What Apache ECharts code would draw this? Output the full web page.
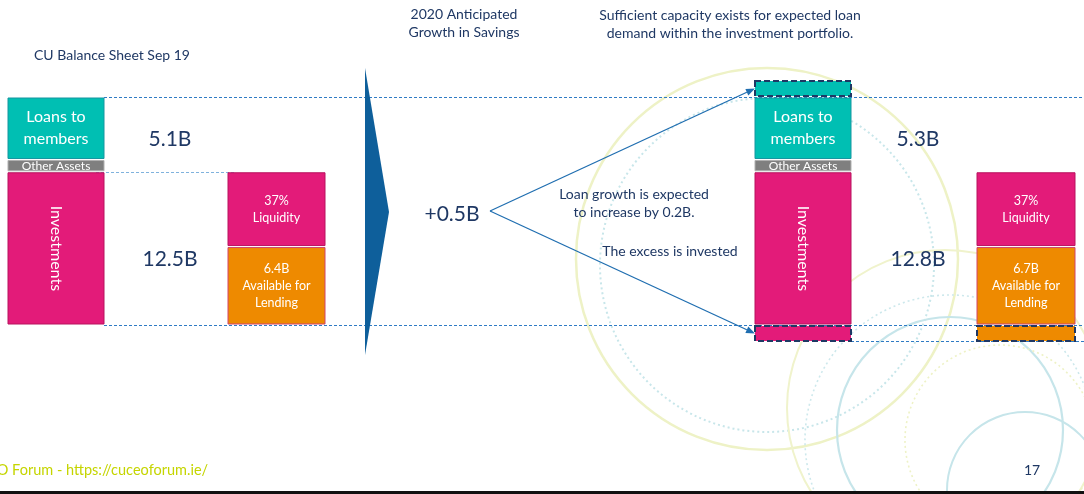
<!DOCTYPE html>
<html>
<head>
<meta charset="utf-8">
<script src="https://cdn.jsdelivr.net/npm/echarts@6/dist/echarts.min.js"></script>
<style>
html,body{margin:0;padding:0;background:#ffffff;}
#chart{width:1084px;height:494px;}
</style>
</head>
<body>
<div id="chart"></div>
<script>
// ---------------- DATA ----------------
const assetCategories = ['Loans to\nmembers', 'Other Assets', 'Investments'];
const balanceSep19 = [5.1, 1.0, 12.5];          // B, CU balance sheet Sep 19
const growth2020 = [0.2, 0.0, 0.3];             // B, anticipated 2020 change per category
const savingsGrowth2020 = 0.5;                  // B
const availableForLending = [6.4, 6.7];         // B, Sep 19 and 2020
const liquidityRatio = ['37%', '37%'];
const headerTexts = ['CU Balance Sheet Sep 19', '2020 Anticipated\nGrowth in Savings',
  'Sufficient capacity exists for expected loan\ndemand within the investment portfolio.'];
const noteTexts = ['Loan growth is expected\nto increase by 0.2B.', 'The excess is invested'];
const footerTexts = ['CUCEO Forum - https://cuceoforum.ie/', '17'];

// ---------------- LAYOUT / STYLE ----------------
const W = 1084, H = 494;
const LAYOUT = {
  topPx: 97, bottomPx: 325, gap: 2, minGrowthPx: 15,
  leftStack: [8, 104], leftLiq: [228, 325], rightStack: [755, 851], rightLiq: [977, 1075],
  leftValueX: 170, rightValueX: 918, valueOffset: 11,
  arrowOrigin: 490
};
const NAVY = '#1F3864';
const FONT = 'Lato, "Open Sans", sans-serif';
const COL = {
  teal: '#00BFB3', tealStroke: '#1596a0',
  gray: '#7F7F7F', grayStroke: '#b0b0b0',
  pink: '#E31B79', pinkStroke: '#b8125e',
  orange: '#EE8A00', orangeStroke: '#d0456a',
  guide: '#2F7BC4', guideLight: '#7FB2DD', arrow: '#1F6EB0', tri: '#0E5F9B'
};

// ---------------- DERIVED ----------------
const cum = []; let acc = 0;
balanceSep19.forEach(v => { cum.push([acc, acc + v]); acc += v; });
const total = acc;
const k = (LAYOUT.bottomPx - LAYOUT.topPx) / total;
const yMin = -LAYOUT.topPx / k, yMax = (H - LAYOUT.topPx) / k;
const invStart = cum[2][0], invEnd = cum[2][1];
const liqSplit = invEnd - availableForLending[0];
const availGrowth = availableForLending[1] - availableForLending[0];
const fmt = v => (Math.round(v * 10) / 10).toFixed(1) + 'B';
const fills = [[COL.teal, COL.tealStroke], [COL.gray, COL.grayStroke], [COL.pink, COL.pinkStroke]];

const boxes = [];
function addStack(prefix, xr) {
  cum.forEach((c, i) => {
    boxes.push({ id: prefix + i, x: xr, v: c, fill: fills[i][0], stroke: fills[i][1],
      text: assetCategories[i], size: i === 1 ? 12 : 16, lh: 22, rotate: i === 2 });
  });
}
function addLiq(prefix, xr, idx) {
  boxes.push({ id: prefix + 'liq', x: xr, v: [invStart, liqSplit], fill: COL.pink, stroke: COL.pinkStroke,
    text: liquidityRatio[idx] + '\nLiquidity', size: 12.5, lh: 17 });
  boxes.push({ id: prefix + 'avail', x: xr, v: [liqSplit, invEnd], fill: COL.orange, stroke: COL.orangeStroke,
    text: fmt(availableForLending[idx]) + '\nAvailable for\nLending', size: 12.5, lh: 17 });
}
addStack('L', LAYOUT.leftStack);
addLiq('L', LAYOUT.leftLiq, 0);
addStack('R', LAYOUT.rightStack);
addLiq('R', LAYOUT.rightLiq, 1);
// anticipated growth boxes (dashed)
boxes.push({ id: 'RloanGrowth', x: LAYOUT.rightStack, v: [-growth2020[0], 0], fill: COL.teal, dashed: true, dir: 'up' });
boxes.push({ id: 'RinvGrowth', x: LAYOUT.rightStack, v: [invEnd, invEnd + growth2020[2]], fill: COL.pink, dashed: true, dir: 'down' });
boxes.push({ id: 'RavailGrowth', x: LAYOUT.rightLiq, v: [invEnd, invEnd + availGrowth], fill: COL.orange, dashed: true, dir: 'down' });

function boxRect(b, api) {
  const p0 = api.coord([b.x[0], b.v[0]]);
  const p1 = api.coord([b.x[1], b.v[1]]);
  let top = p0[1] + LAYOUT.gap / 2, bottom = p1[1] - LAYOUT.gap / 2;
  if (b.dir === 'up') top = Math.min(top, bottom - LAYOUT.minGrowthPx);
  if (b.dir === 'down') bottom = Math.max(bottom, top + LAYOUT.minGrowthPx);
  return { x: p0[0], y: top, width: p1[0] - p0[0], height: bottom - top };
}
const byId = id => boxes.find(b => b.id === id);

// value labels
const valueLabels = [
  { x: LAYOUT.leftValueX, v: (cum[0][0] + cum[0][1]) / 2, text: fmt(balanceSep19[0]) },
  { x: LAYOUT.leftValueX, v: (cum[2][0] + cum[2][1]) / 2, text: fmt(balanceSep19[2]) },
  { x: LAYOUT.rightValueX, v: (cum[0][0] + cum[0][1]) / 2, text: fmt(balanceSep19[0] + growth2020[0]) },
  { x: LAYOUT.rightValueX, v: (cum[2][0] + cum[2][1]) / 2, text: fmt(balanceSep19[2] + growth2020[2]) }
];

// guide lines
const guides = [
  { v: 0, x: [104, W], color: COL.guide },
  { v: invStart, x: [96, 236], color: COL.guideLight },
  { v: total, x: [104, W], color: COL.guide },
  { box: 'RinvGrowth', x: [851, W], color: COL.guide }
];

const chart = echarts.init(document.getElementById('chart'), null, { renderer: 'canvas' });

const circles = [
  { cx: 767, cy: 259, r: 191, c: '#EEF2C6', w: 2.5, dash: null },
  { cx: 767, cy: 265, r: 167, c: '#C8E6EA', w: 2, dash: [2, 3] },
  { cx: 945, cy: 408, r: 158, c: '#F0F3CC', w: 2, dash: null },
  { cx: 950, cy: 440, r: 145, c: '#CDE8EC', w: 1.6, dash: [2, 3] },
  { cx: 950, cy: 430, r: 113, c: '#C6E5EA', w: 2.2, dash: null },
  { cx: 1000, cy: 440, r: 95, c: '#EEF2C6', w: 1.6, dash: [2, 3] },
  { cx: 1025, cy: 490, r: 78, c: '#C6E5EA', w: 2, dash: null }
];

// width of the clipped part of the footer so that "O Forum" starts at the left edge
const FOOT_SIZE = 14.5;
const measureCtx = document.createElement('canvas').getContext('2d');
measureCtx.font = FOOT_SIZE + 'px ' + FONT;
const clipW = measureCtx.measureText('CUCE').width;

const graphic = [];
circles.forEach(c => graphic.push({ type: 'circle', z: 0, silent: true,
  shape: { cx: c.cx, cy: c.cy, r: c.r },
  style: { fill: 'none', stroke: c.c, lineWidth: c.w, lineDash: c.dash || null } }));
graphic.push({ type: 'polygon', z: 20, shape: { points: [[365, 68], [389, 212], [365, 355]] }, style: { fill: COL.tri } });
function txt(text, x, y, size, extra) {
  graphic.push({ type: 'text', z: 30, x: x, y: y,
    style: Object.assign({ text: text, fill: NAVY, font: size + 'px ' + FONT, align: 'center', verticalAlign: 'middle',
      lineHeight: Math.round(size * 1.3) }, extra || {}) });
}
txt(headerTexts[0], 34, 55, 14, { align: 'left' });
txt(headerTexts[1], 464, 23, 14);
txt(headerTexts[2], 730, 24, 14);
txt(noteTexts[0], 634, 203, 14);
txt(noteTexts[1], 670, 251, 14);
txt('+' + fmt(savingsGrowth2020), 452, 214, 21);
txt(footerTexts[0], -clipW - 3, 470, FOOT_SIZE, { align: 'left', fill: '#C5D500' });
txt(footerTexts[1], 1032, 470, 14);
graphic.push({ type: 'rect', z: 30, shape: { x: 0, y: 491, width: W, height: 3 }, style: { fill: '#111111' } });

const option = {
  animation: false,
  backgroundColor: '#ffffff',
  grid: { left: 0, right: 0, top: 0, bottom: 0 },
  xAxis: { type: 'value', min: 0, max: W, show: false },
  yAxis: { type: 'value', inverse: true, min: yMin, max: yMax, show: false },
  graphic: graphic,
  series: [
    {
      type: 'custom', name: 'guides', z: 3, silent: true,
      data: guides.map((g, i) => [i]),
      renderItem(params, api) {
        const g = guides[params.dataIndex];
        let y;
        if (g.box) { const r = boxRect(byId(g.box), api); y = r.y + r.height; }
        else y = api.coord([0, g.v])[1];
        y = Math.round(y) + 0.5;
        return { type: 'line', shape: { x1: api.coord([g.x[0], 0])[0], y1: y, x2: api.coord([g.x[1], 0])[0], y2: y },
          style: { stroke: g.color, lineWidth: 1, lineDash: [3, 2] } };
      }
    },
    {
      type: 'custom', name: 'boxes', z: 4, silent: true,
      data: boxes.map(b => [b.x[0], b.x[1], b.v[0], b.v[1]]),
      renderItem(params, api) {
        const b = boxes[params.dataIndex];
        const r = boxRect(b, api);
        const children = [{
          type: 'rect', shape: r,
          style: b.dashed
            ? { fill: b.fill, stroke: NAVY, lineWidth: 2, lineDash: [6, 3] }
            : { fill: b.fill, stroke: b.stroke, lineWidth: 1 }
        }];
        if (b.text) {
          children.push({
            type: 'text', x: r.x + r.width / 2, y: r.y + r.height / 2,
            rotation: b.rotate ? -Math.PI / 2 : 0,
            style: { text: b.text, fill: '#ffffff', font: b.size + 'px ' + FONT, lineHeight: b.lh,
              align: 'center', verticalAlign: 'middle' }
          });
        }
        return { type: 'group', children: children };
      }
    },
    {
      type: 'custom', name: 'values', z: 5, silent: true,
      data: valueLabels.map(l => [l.x, l.v]),
      renderItem(params, api) {
        const l = valueLabels[params.dataIndex];
        const p = api.coord([l.x, l.v]);
        return { type: 'text', x: p[0], y: p[1] + LAYOUT.valueOffset,
          style: { text: l.text, fill: NAVY, font: '21px ' + FONT, align: 'center', verticalAlign: 'middle' } };
      }
    },
    {
      type: 'custom', name: 'arrows', z: 6, silent: true,
      data: [[0], [1]],
      renderItem(params, api) {
        const ids = ['RloanGrowth', 'RinvGrowth'];
        const rA = boxRect(byId(ids[0]), api), rB = boxRect(byId(ids[1]), api);
        const oy = ((rA.y + rA.height / 2) + (rB.y + rB.height / 2)) / 2;
        const ox = api.coord([LAYOUT.arrowOrigin, 0])[0];
        const r = params.dataIndex === 0 ? rA : rB;
        const tx = r.x, ty = r.y + r.height / 2;
        const ang = Math.atan2(ty - oy, tx - ox);
        const L = 9, Wd = 3.5;
        const bx = tx - L * Math.cos(ang), by = ty - L * Math.sin(ang);
        const px = -Math.sin(ang) * Wd, py = Math.cos(ang) * Wd;
        return { type: 'group', children: [
          { type: 'line', shape: { x1: ox, y1: oy, x2: bx, y2: by }, style: { stroke: COL.arrow, lineWidth: 1.3 } },
          { type: 'polygon', shape: { points: [[tx, ty], [bx + px, by + py], [bx - px, by - py]] }, style: { fill: COL.arrow } }
        ] };
      }
    }
  ]
};
chart.setOption(option);
</script>
</body>
</html>
